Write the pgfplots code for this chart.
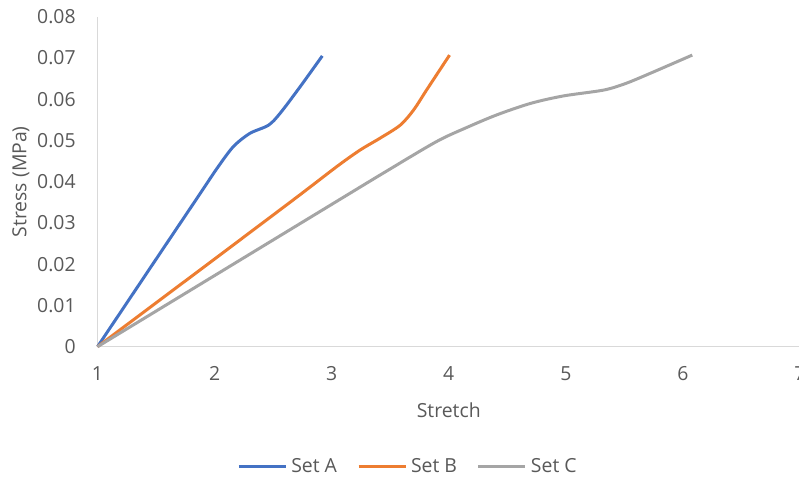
\documentclass[border=0pt]{standalone}
\usepackage{fontspec}
\setmainfont{Open Sans}
\usepackage{pgfplots}
\pgfplotsset{compat=1.18}
\definecolor{cA}{HTML}{4472C4}
\definecolor{cB}{HTML}{ED7D31}
\definecolor{cC}{HTML}{A5A5A5}
\definecolor{axgray}{HTML}{D9D9D9}
\definecolor{txt}{HTML}{595959}
\begin{document}
\begin{tikzpicture}[font=\fontsize{9.7}{11}\selectfont]
\path[use as bounding box] (-48.75pt,-66.15pt) rectangle (350.75pt,173.35pt);
\begin{axis}[
  at={(0,0)}, anchor=south west,
  scale only axis, width=351.25pt, height=165pt,
  xmin=1, xmax=7, ymin=0, ymax=0.08,
  scaled y ticks=false, scaled x ticks=false,
  axis x line=bottom, axis y line=left,
  axis line style={-, draw=axgray, line width=0.7pt},
  major tick length=0pt,
  xtick={1,2,3,4,5,6,7}, xticklabels={1,2,3,4,5,6,7},
  ytick={0,0.01,0.02,0.03,0.04,0.05,0.06,0.07,0.08},
  yticklabels={0,0.01,0.02,0.03,0.04,0.05,0.06,0.07,0.08},
  xticklabel style={inner sep=0pt, anchor=north, yshift=-9.8pt, text=txt},
  yticklabel style={inner sep=0pt, anchor=east, xshift=-10.75pt, text=txt},
  xlabel={Stretch}, ylabel={Stress (MPa)},
  xlabel style={at={(axis description cs:0.5,-0.1918)}, anchor=center, text=txt},
  ylabel style={at={(axis description cs:-0.1089,0.5)}, anchor=center, text=txt},
  legend columns=3,
  legend style={at={(axis description cs:0.4434,-0.3645)}, anchor=center, draw=none, text=txt,
    /tikz/every even column/.append style={column sep=8pt}},
  legend image code/.code={\draw[#1] (0pt,0pt) -- (23.5pt,0pt);},
  clip=false,
]
\addplot[cA, line width=1.5pt, smooth, tension=0.5] coordinates {
  (1,0) (1.5,0.0212) (1.85,0.0360) (2.02,0.0432) (2.16,0.0485) (2.30,0.0517) (2.46,0.0537) (2.56,0.0566) (2.73,0.0630) (2.92,0.0705)
};
\addlegendentry{Set A}
\addplot[cB, line width=1.5pt, smooth, tension=0.5] coordinates {
  (1,0) (2,0.02126) (2.7,0.0362) (3.05,0.0438) (3.244,0.0477) (3.41,0.0505) (3.585,0.0537) (3.70,0.0574) (3.81,0.0622) (4.007,0.0707)
};
\addlegendentry{Set B}
\addplot[cC, line width=1.5pt, smooth, tension=0.5] coordinates {
  (1,0) (2,0.01725) (3,0.0345) (3.5,0.0431) (3.9,0.0498) (4.15,0.0531) (4.41,0.0562) (4.70,0.0590) (4.98,0.0608) (5.32,0.0622) (5.50,0.0637) (5.69,0.0659) (6.08,0.0707)
};
\addlegendentry{Set C}
\end{axis}
\end{tikzpicture}
\end{document}
